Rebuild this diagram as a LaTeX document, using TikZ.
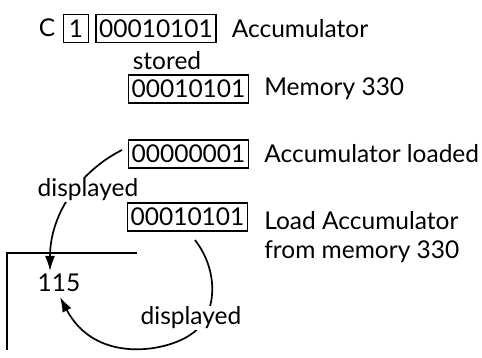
\documentclass[tikz,border=0pt]{standalone}
\usepackage{fontspec}
\setmainfont{Lato}
\usetikzlibrary{arrows.meta,calc,positioning}

\begin{document}
\begin{tikzpicture}[x=1pt, y=-1pt, >={Latex[length=15pt,width=10pt]},
  font=\fontsize{24.5}{28}\selectfont,
  reg/.style={draw, line width=1.3pt, minimum width=120pt, minimum height=28pt, inner sep=1pt},
  bit/.style={draw, line width=1.3pt, minimum width=25pt, minimum height=28pt, inner sep=1pt},
  lbl/.style={anchor=west, inner sep=1pt},
  flow/.style={->, line width=1.7pt}]
  \useasboundingbox[fill=white] (0,0) rectangle (482,358);

  % accumulator with carry bit
  \node (carry) at (47,28) {C};
  \node[bit] (cbit) at (76,28.5) {1};
  \node[reg] (acc) at (156,28.5) {00010101};
  \node[lbl, right=14pt of acc] (acclbl) {Accumulator};
  \node (stored) at (167,61) {stored};

  % memory and registers
  \node[reg] (mem) at (188.5,89) {00010101};
  \node[lbl, right=14pt of mem] (memlbl) {Memory 330};
  \node[reg] (accld) at (188.5,154) {00000001};
  \node[lbl, right=14pt of accld] (accldlbl) {Accumulator loaded};
  \node[reg] (load) at (187.5,217) {00010101};
  \node[lbl] (loadlbl) at (accldlbl.west |- 0,221) {Load Accumulator};
  \node[lbl] (fromlbl) at (accldlbl.west |- 0,252) {from memory 330};

  % display
  \coordinate (dtl) at (7,253);
  \coordinate (dtr) at (137,253);
  \coordinate (dbl) at (7,350);
  \draw[line width=1.4pt] (dtr) -- (dtl) -- (dbl);
  \node (shown) at (59,283) {115};

  \coordinate (s1) at (122,150);
  \coordinate (t1) at (50,271);
  \coordinate (s2) at (195,240);
  \coordinate (m2) at (190,335);
  \coordinate (t2) at (60,297);
  \draw[flow] (s1) .. controls (82,170) and (50,212) .. (t1);
  \draw[flow] (s2) .. controls (222,275) and (215,320) .. (m2)
    .. controls (165,352) and (95,364) .. (t2);
  \node[fill=white, inner sep=1pt] (disp1) at (88,190) {displayed};
  \node[fill=white, inner sep=1pt] (disp2) at (191,318) {displayed};
\end{tikzpicture}
\end{document}
